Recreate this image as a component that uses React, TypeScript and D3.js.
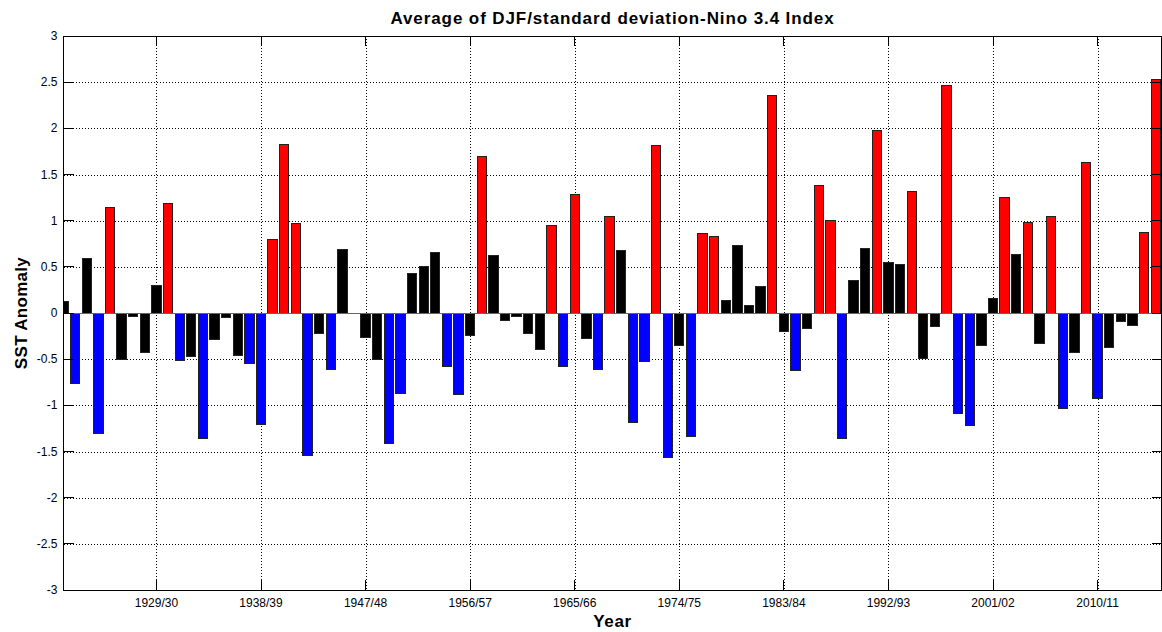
import React from "react";
import * as d3 from "d3";

const startYear = 1921;
const values: number[] = [
  0.12, -0.76, 0.59, -1.30, 1.14, -0.50, -0.04, -0.43, 0.30, 1.19,
  -0.51, -0.47, -1.36, -0.29, -0.05, -0.455, -0.545, -1.21, 0.80, 1.83,
  0.97, -1.54, -0.22, -0.61, 0.69, 0.0, -0.27, -0.50, -1.415, -0.87,
  0.43, 0.50, 0.65, -0.58, -0.885, -0.24, 1.70, 0.62, -0.08, -0.04,
  -0.22, -0.40, 0.946, -0.58, 1.28, -0.28, -0.61, 1.04, 0.68, -1.19,
  -0.53, 1.81, -1.57, -0.35, -1.34, 0.86, 0.83, 0.14, 0.73, 0.08,
  0.29, 2.36, -0.195, -0.625, -0.166, 1.38, 1.00, -1.357, 0.35, 0.70,
  1.98, 0.545, 0.52, 1.32, -0.49, -0.15, 2.46, -1.09, -1.22, -0.35,
  0.16, 1.25, 0.635, 0.98, -0.33, 1.04, -1.03, -0.43, 1.63, -0.93,
  -0.375, -0.094, -0.137, 0.87, 2.53,
];
const years: number[] = values.map((_, i) => startYear + i);
const xTickYears: number[] = [1929, 1938, 1947, 1956, 1965, 1974, 1983, 1992, 2001, 2010];
const yTicks: number[] = [-3, -2.5, -2, -1.5, -1, -0.5, 0, 0.5, 1, 1.5, 2, 2.5, 3];
const elNinoThreshold = 0.75;
const laNinaThreshold = -0.51;

const W = 1162;
const H = 632;
const L = 63.5;
const R = 1161.5;
const T = 36;
const B = 590;

const x = d3.scaleLinear().domain([1921, 2015.5]).range([L, R]);
const y = d3.scaleLinear().domain([-3, 3]).range([B, T]);
const barW = x(1921.8) - x(1921);

const fmtYear = (yr: number) => `${yr}/${String((yr + 1) % 100).padStart(2, "0")}`;
const fmtY = (v: number) => String(v);
const colorOf = (v: number) => (v >= elNinoThreshold ? "#ff0000" : v <= laNinaThreshold ? "#0000ff" : "#000000");

export default function App() {
  const font = "'Liberation Sans', Arial, Helvetica, sans-serif";
  const tickLen = 10;
  return (
    <svg width={W} height={H} style={{ position: "absolute", left: 0, top: 0, background: "#fff" }} fontFamily={font}>
      <defs>
        <clipPath id="plotclip">
          <rect x={L} y={T} width={R - L} height={B - T} />
        </clipPath>
      </defs>
      <rect x={0} y={0} width={W} height={H} fill="#fff" />
      {/* grid */}
      <g stroke="#000" strokeWidth={1} strokeDasharray="1 2" shapeRendering="crispEdges">
        {yTicks.filter((v) => v > -3 && v < 3).map((v) => (
          <line key={"gy" + v} x1={L} x2={R} y1={Math.round(y(v)) + 0.5} y2={Math.round(y(v)) + 0.5} />
        ))}
        {xTickYears.map((yr) => (
          <line key={"gx" + yr} x1={Math.round(x(yr)) + 0.5} x2={Math.round(x(yr)) + 0.5} y1={T} y2={B} />
        ))}
      </g>
      {/* bars */}
      <g clipPath="url(#plotclip)" shapeRendering="crispEdges">
        {values.map((v, i) => {
          const y0 = y(0);
          const y1 = y(v);
          return (
            <rect
              key={years[i]}
              x={x(years[i]) - barW / 2}
              y={Math.min(y0, y1)}
              width={barW}
              height={Math.abs(y1 - y0)}
              fill={colorOf(v)}
              stroke="#222"
              strokeWidth={1}
            />
          );
        })}
        <line x1={L} x2={R} y1={Math.round(y(0)) + 0.5} y2={Math.round(y(0)) + 0.5} stroke="#666" strokeWidth={1} />
      </g>
      {/* box and ticks */}
      <g stroke="#000" strokeWidth={1} shapeRendering="crispEdges" fill="none">
        <rect x={L} y={T} width={R - L} height={B - T} />
        {yTicks.map((v) => (
          <g key={"ty" + v}>
            <line x1={L} x2={L + tickLen} y1={y(v)} y2={y(v)} />
            <line x1={R - tickLen} x2={R} y1={y(v)} y2={y(v)} />
          </g>
        ))}
        {xTickYears.map((yr) => (
          <g key={"tx" + yr}>
            <line x1={x(yr)} x2={x(yr)} y1={B} y2={B - tickLen} />
            <line x1={x(yr)} x2={x(yr)} y1={T} y2={T + tickLen} />
          </g>
        ))}
      </g>
      {/* tick labels */}
      <g fontSize={12} fill="#000">
        {yTicks.map((v) => (
          <text key={"ly" + v} x={L - 6} y={y(v)} textAnchor="end" dominantBaseline="central">
            {fmtY(v)}
          </text>
        ))}
        {xTickYears.map((yr) => (
          <text key={"lx" + yr} x={x(yr)} y={603} textAnchor="middle" dominantBaseline="central">
            {fmtYear(yr)}
          </text>
        ))}
      </g>
      <text x={(L + R) / 2} y={18} textAnchor="middle" dominantBaseline="central" fontSize={17} fontWeight="bold" letterSpacing={0.9}>
        Average of DJF/standard deviation-Nino 3.4 Index
      </text>
      <text x={(L + R) / 2} y={621} textAnchor="middle" dominantBaseline="central" fontSize={17} fontWeight="bold" letterSpacing={0.6}>
        Year
      </text>
      <text
        transform={`translate(${21},${y(0)}) rotate(-90)`}
        textAnchor="middle"
        dominantBaseline="central"
        fontSize={17}
        fontWeight="bold"
        letterSpacing={0.3}
      >
        SST Anomaly
      </text>
    </svg>
  );
}
